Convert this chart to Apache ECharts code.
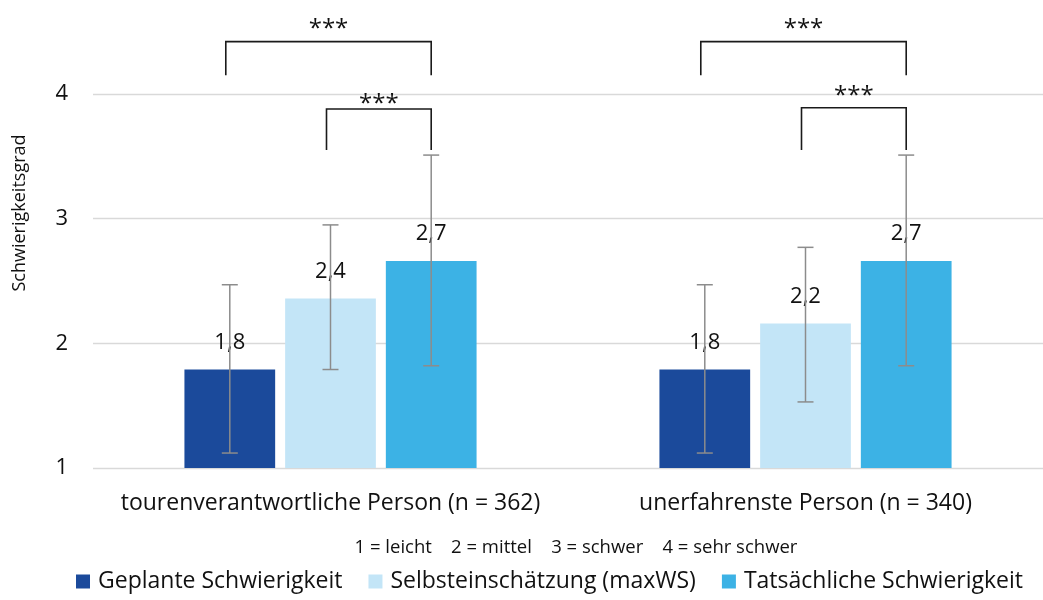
<!DOCTYPE html>
<html>
<head>
<meta charset="utf-8">
<script src="https://cdn.jsdelivr.net/npm/echarts@6/dist/echarts.min.js"></script>
<style>
  html, body { margin: 0; padding: 0; background: #fff; }
  #chart { width: 1043px; height: 600px; }
</style>
</head>
<body>
<div id="chart"></div>
<script>
// Groups on the x axis
const categories = ['tourenverantwortliche Person (n = 362)', 'unerfahrenste Person (n = 340)'];
const seriesNames = ['Geplante Schwierigkeit', 'Selbsteinschätzung (maxWS)', 'Tatsächliche Schwierigkeit'];
const seriesColors = ['#1b4a9b', '#c3e5f7', '#3cb2e5'];

// Mean values per group
const geplant = [1.79, 1.79];
const selbst = [2.36, 2.16];
const tatsaechlich = [2.66, 2.66];

// Error bar ends (lower / upper) per group
const geplantLow = [1.12, 1.12];
const geplantHigh = [2.47, 2.47];
const selbstLow = [1.79, 1.53];
const selbstHigh = [2.95, 2.77];
const tatsLow = [1.82, 1.82];
const tatsHigh = [3.51, 3.51];

// Significance brackets: [group, fromSeries, toSeries, legBottom, top, labelY, label]
const brackets = [
  [0, 0, 2, 4.15, 4.42, 4.58, '***'],
  [0, 1, 2, 3.55, 3.88, 3.98, '***'],
  [1, 0, 2, 4.15, 4.42, 4.58, '***'],
  [1, 1, 2, 3.55, 3.89, 4.04, '***']
];

const yTicks = [1, 2, 3, 4];
const scaleNote = '1 = leicht    2 = mittel    3 = schwer    4 = sehr schwer';

const FONT = '"Open Sans", "Noto Sans", sans-serif';
const BAR_WIDTH = 0.191;   // share of the category band
const BAR_GAP = 0.11;      // share of the bar width
const STAR_SIZE = 24;

const values = [geplant, selbst, tatsaechlich];
const lows = [geplantLow, selbstLow, tatsLow];
const highs = [geplantHigh, selbstHigh, tatsHigh];

// Horizontal offset of bar i from the category centre
function barOffset(api, i) {
  const band = api.size([1, 0])[0];
  const w = band * BAR_WIDTH;
  const g = w * BAR_GAP;
  return (i - 1) * (w + g);
}

const errorData = [];
for (let s = 0; s < 3; s++) {
  for (let c = 0; c < categories.length; c++) {
    errorData.push([c, lows[s][c], highs[s][c], s]);
  }
}

const barSeries = seriesNames.map((name, i) => ({
  name: name,
  type: 'bar',
  data: values[i],
  barWidth: (BAR_WIDTH * 100) + '%',
  barGap: (BAR_GAP * 100) + '%',
  itemStyle: { color: seriesColors[i] },
  label: {
    show: true,
    position: 'top',
    distance: 16,
    fontFamily: FONT,
    fontSize: 22,
    color: '#111',
    formatter: p => p.value.toFixed(1).replace('.', ',')
  },
  z: 2
}));

const errorSeries = {
  type: 'custom',
  data: errorData,
  encode: { x: 0, y: [1, 2] },
  z: 5,
  silent: true,
  renderItem: function (params, api) {
    const c = api.value(0);
    const off = barOffset(api, api.value(3));
    const lo = api.coord([c, api.value(1)]);
    const hi = api.coord([c, api.value(2)]);
    const x = lo[0] + off;
    const cap = 8;
    const st = { stroke: '#8c8c8c', lineWidth: 1.5 };
    return {
      type: 'group',
      children: [
        { type: 'line', shape: { x1: x, y1: lo[1], x2: x, y2: hi[1] }, style: st },
        { type: 'line', shape: { x1: x - cap, y1: lo[1], x2: x + cap, y2: lo[1] }, style: st },
        { type: 'line', shape: { x1: x - cap, y1: hi[1], x2: x + cap, y2: hi[1] }, style: st }
      ]
    };
  }
};

const bracketSeries = {
  type: 'custom',
  data: brackets,
  encode: { x: 0, y: 4 },
  z: 6,
  silent: true,
  clip: false,
  renderItem: function (params, api) {
    const b = brackets[params.dataIndex];
    const cx = api.coord([b[0], b[4]])[0];
    const x1 = cx + barOffset(api, b[1]) - 4;
    const x2 = cx + barOffset(api, b[2]);
    const yb = api.coord([b[0], b[3]])[1];
    const yt = api.coord([b[0], b[4]])[1];
    // asterisks sit high in the em box, so push the anchor down a little
    const yl = api.coord([b[0], b[5]])[1] + STAR_SIZE * 0.3;
    return {
      type: 'group',
      children: [
        {
          type: 'polyline',
          shape: { points: [[x1, yb], [x1, yt], [x2, yt], [x2, yb]] },
          style: { stroke: '#1a1a1a', lineWidth: 1.6, fill: null }
        },
        {
          type: 'text',
          style: {
            text: b[6], x: (x1 + x2) / 2, y: yl,
            align: 'center', verticalAlign: 'middle',
            fontFamily: FONT, fontSize: STAR_SIZE, fill: '#111'
          }
        }
      ]
    };
  }
};

const chart = echarts.init(document.getElementById('chart'), null, { renderer: 'canvas' });
chart.setOption({
  animation: false,
  backgroundColor: '#fff',
  grid: { left: 93, top: 94, width: 956, bottom: 132, containLabel: false },
  xAxis: {
    type: 'category',
    data: categories,
    axisLine: { show: false },
    axisTick: { show: false },
    axisLabel: {
      interval: 0, hideOverlap: false,
      fontFamily: FONT, fontSize: 23, color: '#111', margin: 24
    }
  },
  yAxis: {
    type: 'value',
    min: 1,
    max: 4,
    interval: 1,
    axisLine: { show: false },
    axisTick: { show: false },
    splitLine: { lineStyle: { color: '#d9d9d9', width: 1.3 } },
    axisLabel: {
      fontFamily: FONT, fontSize: 22, color: '#111', margin: 25,
      formatter: v => (yTicks.indexOf(v) >= 0 ? String(v) : '')
    }
  },
  legend: {
    data: seriesNames,
    bottom: 2,
    left: 71,
    icon: 'rect',
    itemWidth: 14,
    itemHeight: 14,
    itemGap: 26,
    textStyle: { fontFamily: FONT, fontSize: 23, color: '#111', padding: [0, 0, 0, 3] }
  },
  graphic: [
    {
      type: 'text',
      x: 576, y: 548,
      style: {
        text: scaleNote, fontFamily: FONT, fontSize: 18.5, fill: '#111',
        align: 'center', verticalAlign: 'middle'
      }
    },
    {
      type: 'text',
      x: 20, y: 213,
      rotation: Math.PI / 2,
      style: {
        text: 'Schwierigkeitsgrad', fontFamily: FONT, fontSize: 18, fill: '#111',
        align: 'center', verticalAlign: 'middle'
      }
    }
  ],
  series: barSeries.concat([errorSeries, bracketSeries])
});
</script>
</body>
</html>
